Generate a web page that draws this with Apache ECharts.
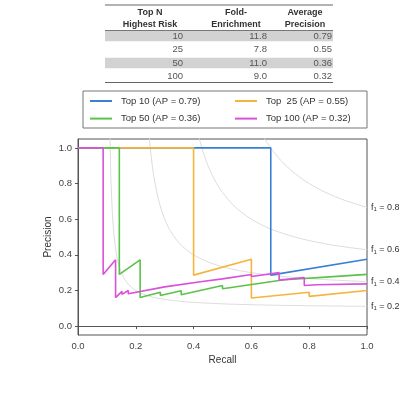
<!DOCTYPE html>
<html>
<head>
<meta charset="utf-8">
<script src="https://cdn.jsdelivr.net/npm/echarts@6/dist/echarts.min.js"></script>
<style>
  html, body { margin: 0; padding: 0; background: #fff; }
  #chart { width: 419px; height: 398px; }
</style>
</head>
<body>
<div id="chart"></div>
<script>
// table values
var topN = [10, 25, 50, 100]
var foldEnrichment = [11.8, 7.8, 11.0, 9.0]
var avgPrecision = [0.79, 0.55, 0.36, 0.32]

// precision-recall curves, [recall, precision]
var prTop10 = [[0, 1], [0.667, 1], [0.667, 0.286], [1, 0.375]]
var prTop25 = [[0, 1], [0.4, 1], [0.4, 0.286], [0.6, 0.375], [0.6, 0.158], [0.8, 0.19], [0.8, 0.167], [1, 0.2]]
var prTop50 = [[0, 1], [0.143, 1], [0.143, 0.29], [0.215, 0.372], [0.215, 0.16], [0.285, 0.19], [0.285, 0.172],
  [0.357, 0.198], [0.357, 0.176], [0.5, 0.228], [0.5, 0.21], [0.714, 0.26], [0.714, 0.252],
  [0.857, 0.275], [0.857, 0.27], [1, 0.29]]
var prTop100 = [[0, 1], [0.087, 1], [0.087, 0.29], [0.13, 0.372], [0.13, 0.16], [0.152, 0.195], [0.152, 0.178],
  [0.174, 0.2], [0.174, 0.182], [0.3, 0.22], [0.3, 0.21], [0.43, 0.25], [0.43, 0.243], [0.5, 0.265],
  [0.5, 0.258], [0.6, 0.29], [0.6, 0.278], [0.696, 0.3], [0.696, 0.258], [0.783, 0.272], [0.783, 0.228],
  [0.826, 0.232], [0.826, 0.222], [1, 0.237]]

var seriesNames = ['Top 10 (AP = 0.79)', 'Top  25 (AP = 0.55)', 'Top 50 (AP = 0.36)', 'Top 100 (AP = 0.32)']
var seriesColors = ['#3b7fd4', '#f5b53d', '#5cc24b', '#d950d9']

var xTicks = [0, 0.2, 0.4, 0.6, 0.8, 1.0]
var yTicks = [0, 0.2, 0.4, 0.6, 0.8, 1.0]
var f1Levels = [0.2, 0.4, 0.6, 0.8]

var FONT = 'Liberation Sans'
var chart = echarts.init(document.getElementById('chart'))

// iso-f1 contour lines
function isoLine(f) {
  var pts = []
  for (var i = 0; i <= 200; i++) {
    var r = 0.01 + i * 0.99 / 200
    var p = f * r / (2 * r - f)
    if (p >= 0) pts.push([r, p])
  }
  return pts
}

var series = []
f1Levels.forEach(function (f) {
  series.push({
    name: 'f1 ' + f,
    type: 'line',
    data: isoLine(f),
    symbol: 'none',
    silent: true,
    z: 1,
    lineStyle: { color: '#dcdcdc', width: 1 },
    endLabel: {
      show: true,
      distance: 4,
      formatter: '{a|f}{b|1}{a| = ' + f.toFixed(1) + '}',
      rich: {
        a: { fontSize: 9, color: '#333', fontFamily: FONT },
        b: { fontSize: 6, color: '#333', fontFamily: FONT, padding: [5, 0, 0, 0] }
      }
    }
  })
})

var curves = [prTop10, prTop25, prTop50, prTop100]
curves.forEach(function (c, i) {
  series.push({
    name: seriesNames[i],
    type: 'line',
    data: c,
    symbol: 'none',
    z: 2 + i,
    color: seriesColors[i],
    lineStyle: { color: seriesColors[i], width: 1.6 }
  })
})

// table drawn as graphic elements
var tableLeft = 105, tableRight = 333
var colRight = [183, 267, 332]
var headerCenter = [150, 236, 305]
var rowCenter = [36, 49.5, 63, 76.5]
var graphic = [
  { type: 'line', shape: { x1: tableLeft, y1: 5, x2: tableRight, y2: 5 }, style: { stroke: '#666', lineWidth: 1.2 } },
  { type: 'line', shape: { x1: tableLeft, y1: 30.5, x2: tableRight, y2: 30.5 }, style: { stroke: '#777', lineWidth: 1 } },
  { type: 'line', shape: { x1: tableLeft, y1: 82.5, x2: tableRight, y2: 82.5 }, style: { stroke: '#666', lineWidth: 1.2 } }
]
var headers = [['Top N', 'Highest Risk'], ['Fold-', 'Enrichment'], ['Average', 'Precision']]
headers.forEach(function (h, i) {
  h.forEach(function (t, j) {
    graphic.push({
      type: 'text', x: headerCenter[i], y: 13 + j * 12,
      style: { text: t, fill: '#333', font: 'bold 9px "' + FONT + '"', align: 'center', verticalAlign: 'middle' }
    })
  })
})
topN.forEach(function (n, i) {
  if (i % 2 === 0) {
    graphic.push({
      type: 'rect', z: -1, shape: { x: tableLeft, y: rowCenter[i] - 5.3, width: tableRight - tableLeft, height: 10.6 },
      style: { fill: '#d2d2d2' }
    })
  }
  var vals = [String(n), foldEnrichment[i].toFixed(1), avgPrecision[i].toFixed(2)]
  vals.forEach(function (v, j) {
    graphic.push({
      type: 'text', x: colRight[j], y: rowCenter[i],
      style: { text: v, fill: '#555', font: '9.5px "' + FONT + '"', align: 'right', verticalAlign: 'middle' }
    })
  })
})
// legend frame
graphic.push({
  type: 'rect', shape: { x: 83, y: 91, width: 284, height: 37 },
  style: { fill: 'none', stroke: '#777', lineWidth: 1 }
})

var legendBase = {
  orient: 'vertical',
  top: 91,
  icon: 'rect',
  itemWidth: 22,
  itemHeight: 2,
  itemGap: 7.6,
  textStyle: { color: '#333', fontSize: 9.5, fontFamily: FONT, padding: [0, 0, 0, 4] }
}

chart.setOption({
  animation: false,
  backgroundColor: '#fff',
  textStyle: { fontFamily: FONT },
  graphic: graphic,
  legend: [
    Object.assign({}, legendBase, { left: 85, data: [seriesNames[0], seriesNames[2]] }),
    Object.assign({}, legendBase, { left: 230, data: [seriesNames[1], seriesNames[3]] })
  ],
  grid: {
    left: 78, top: 139, width: 289, height: 196,
    show: true, borderColor: '#555', borderWidth: 1, backgroundColor: '#fff'
  },
  xAxis: {
    type: 'value', min: 0, max: 1, interval: 0.2,
    name: 'Recall', nameLocation: 'middle', nameGap: 20, nameMoveOverlap: false,
    nameTextStyle: { color: '#333', fontSize: 10, fontFamily: FONT },
    axisLine: { show: true, lineStyle: { color: '#555' } },
    axisTick: { show: true, length: 3, lineStyle: { color: '#555' } },
    axisLabel: { color: '#444', fontSize: 9.5, margin: 6, formatter: function (v) { return v.toFixed(1) } },
    splitLine: { show: false }
  },
  yAxis: {
    type: 'value', min: -0.05, max: 1.05,
    name: 'Precision', nameLocation: 'middle', nameGap: 25, nameMoveOverlap: false,
    nameTextStyle: { color: '#333', fontSize: 10, fontFamily: FONT },
    axisLine: { show: true, lineStyle: { color: '#555' } },
    axisTick: { show: true, length: 3, customValues: yTicks, lineStyle: { color: '#555' } },
    axisLabel: { color: '#444', fontSize: 9.5, margin: 6, customValues: yTicks, formatter: function (v) { return v.toFixed(1) } },
    splitLine: { show: false }
  },
  series: series
})
</script>
</body>
</html>
